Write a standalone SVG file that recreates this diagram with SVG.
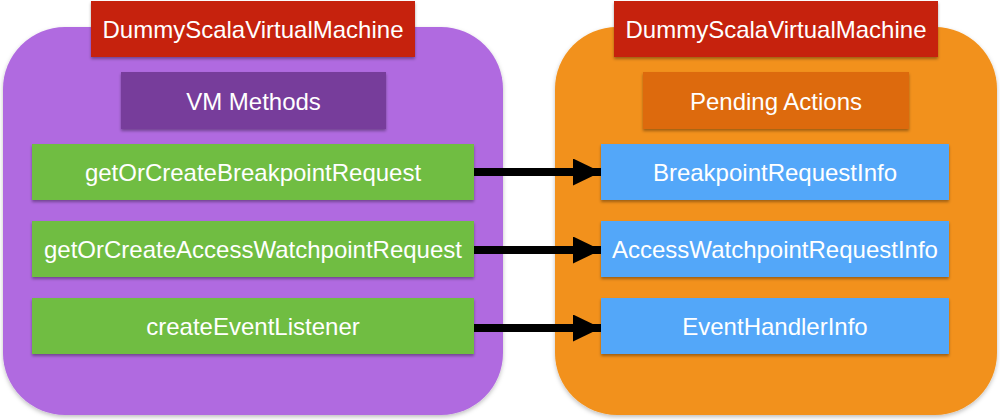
<svg xmlns="http://www.w3.org/2000/svg" width="1000" height="420" viewBox="0 0 1000 420">
<defs>
<filter id="sh" x="-10%" y="-20%" width="120%" height="150%">
<feDropShadow dx="0" dy="2" stdDeviation="1.5" flood-color="#000" flood-opacity="0.35"/>
</filter>
<filter id="shc" x="-5%" y="-5%" width="110%" height="110%">
<feDropShadow dx="0" dy="2" stdDeviation="2" flood-color="#000" flood-opacity="0.25"/>
</filter>
<marker id="ah" viewBox="0 0 28 27" refX="28" refY="13.5" markerWidth="28" markerHeight="27" markerUnits="userSpaceOnUse" orient="auto">
<path d="M0,0 L28,13.5 L0,27 Z" fill="#000"/>
</marker>
</defs>
<style>
text{font-family:"Liberation Sans",Arial,Helvetica,sans-serif;font-size:24px;fill:#fff;text-anchor:middle}
.box{filter:url(#sh)}
.conn line{stroke:#000;stroke-width:8}
</style>
<g id="left-container">
<rect x="3" y="27" width="500" height="388" rx="62" ry="62" fill="#B06AE0" filter="url(#shc)"/>
</g>
<g id="right-container">
<rect x="555" y="27" width="442" height="388" rx="62" ry="62" fill="#F2911B" filter="url(#shc)"/>
</g>
<g id="left-title">
<rect class="box" x="91" y="1" width="324" height="56" fill="#C6240A"/>
<text x="253" y="38">DummyScalaVirtualMachine</text>
</g>
<g id="right-title">
<rect class="box" x="614" y="1" width="324" height="56" fill="#C6240A"/>
<text x="776" y="38">DummyScalaVirtualMachine</text>
</g>
<g id="vm-methods">
<rect class="box" x="121" y="72" width="265" height="57" fill="#773E9B"/>
<text x="253.5" y="110">VM Methods</text>
</g>
<g id="pending-actions">
<rect class="box" x="643" y="72" width="266" height="57" fill="#DD6A10"/>
<text x="776" y="110">Pending Actions</text>
</g>
<g id="m1">
<rect class="box" x="32" y="144" width="442" height="56" fill="#70BD42"/>
<text x="253" y="181">getOrCreateBreakpointRequest</text>
</g>
<g id="m2">
<rect class="box" x="32" y="221" width="442" height="56" fill="#70BD42"/>
<text x="253" y="258">getOrCreateAccessWatchpointRequest</text>
</g>
<g id="m3">
<rect class="box" x="32" y="298" width="442" height="56" fill="#70BD42"/>
<text x="253" y="335">createEventListener</text>
</g>
<g id="p1">
<rect class="box" x="601" y="144" width="348" height="56" fill="#52A7F9"/>
<text x="775" y="181">BreakpointRequestInfo</text>
</g>
<g id="p2">
<rect class="box" x="601" y="221" width="348" height="56" fill="#52A7F9"/>
<text x="775" y="258">AccessWatchpointRequestInfo</text>
</g>
<g id="p3">
<rect class="box" x="601" y="298" width="348" height="56" fill="#52A7F9"/>
<text x="775" y="335">EventHandlerInfo</text>
</g>
<g id="connectors" class="conn">
<line x1="474" y1="172" x2="601" y2="172" marker-end="url(#ah)"/>
<line x1="474" y1="250" x2="601" y2="250" marker-end="url(#ah)"/>
<line x1="474" y1="328" x2="601" y2="328" marker-end="url(#ah)"/>
</g>
</svg>
